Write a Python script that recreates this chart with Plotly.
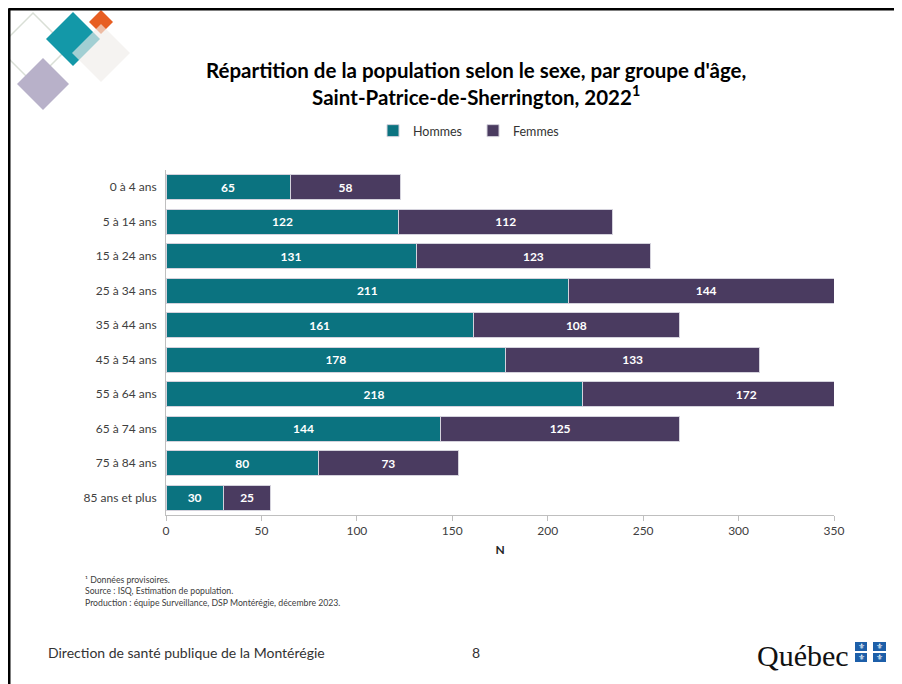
import plotly.graph_objects as go

categories = ["0 à 4 ans", "5 à 14 ans", "15 à 24 ans", "25 à 34 ans", "35 à 44 ans",
              "45 à 54 ans", "55 à 64 ans", "65 à 74 ans", "75 à 84 ans", "85 ans et plus"]
hommes = [65, 122, 131, 211, 161, 178, 218, 144, 80, 30]
femmes = [58, 112, 123, 144, 108, 133, 172, 125, 73, 25]
x_ticks = [0, 50, 100, 150, 200, 250, 300, 350]

TEAL = "#0b7380"
PURPLE = "#4a3b60"
FONT = "Lato"

OFF = 8  # page body margin
W, H = 902 - OFF, 684 - OFF
# plot area in reference (screen) pixel coordinates
RL, RR, RT, RB = 166, 834, 170, 515
L, R, T, B = RL - OFF, RR - OFF, RT - OFF, RB - OFF


def px(x):
    return (x - RL) / (RR - RL)


def py(y):
    return (RB - y) / (RB - RT)


fig = go.Figure()
for name, vals, col in [("Hommes", hommes, TEAL), ("Femmes", femmes, PURPLE)]:
    fig.add_trace(go.Bar(
        name=name, y=categories, x=vals, orientation="h",
        marker=dict(color=col, line=dict(color="#d4d2dc", width=1)),
        texttemplate="%{x}", textposition="inside", insidetextanchor="middle",
        textangle=0,
        textfont=dict(family=FONT, size=12, color="white", weight="bold"),
    ))

shapes = []


def diamond(cx, cy, r, fill=None, line=None, opacity=1.0, lw=1.5):
    path = f"M {px(cx)} {py(cy - r)} L {px(cx + r)} {py(cy)} L {px(cx)} {py(cy + r)} L {px(cx - r)} {py(cy)} Z"
    d = dict(type="path", xref="paper", yref="paper", path=path, opacity=opacity, layer="above")
    if fill:
        d["fillcolor"] = fill
        d["line"] = dict(width=0)
    else:
        d["fillcolor"] = "rgba(0,0,0,0)"
        d["line"] = dict(color=line, width=lw)
    shapes.append(d)


diamond(33, 48, 35, line="#d9dfd6", lw=1.5)
diamond(43, 84, 26, fill="#b8b1c9")
diamond(73, 39, 27, fill="#1398a8")
diamond(101, 22, 12, fill="#e75e22")
diamond(101, 53, 29, fill="#efedea", opacity=0.65)

# slide border (top & left)
shapes.append(dict(type="line", xref="paper", yref="paper", x0=px(8.5), x1=px(910), y0=py(9), y1=py(9),
                   line=dict(color="black", width=3)))
shapes.append(dict(type="line", xref="paper", yref="paper", x0=px(9), x1=px(9), y0=py(8.5), y1=py(700),
                   line=dict(color="black", width=3)))

# Québec flag squares
for x0, x1 in [(855, 867), (873, 886)]:
    for y0, y1 in [(642, 651), (653, 662)]:
        shapes.append(dict(type="rect", xref="paper", yref="paper", x0=px(x0), x1=px(x1),
                           y0=py(y1), y1=py(y0), fillcolor="#1d5fa9", line=dict(width=0)))

annotations = [
    dict(x=px(476), y=py(84), xref="paper", yref="paper", xanchor="center", yanchor="middle",
         text="Répartition de la population selon le sexe, par groupe d'âge,<br>Saint-Patrice-de-Sherrington, 2022<sup>1</sup>",
         showarrow=False, font=dict(family=FONT, size=20.5, color="black", weight="bold")),
    dict(x=px(83), y=py(591), xref="paper", yref="paper", xanchor="left", yanchor="middle", align="left",
         text="¹ Données provisoires.<br>Source : ISQ, Estimation de population.<br>Production : équipe Surveillance, DSP Montérégie, décembre 2023.",
         showarrow=False, font=dict(family=FONT, size=8.7, color="#404040")),
    dict(x=px(46), y=py(652), xref="paper", yref="paper", xanchor="left", yanchor="middle",
         text="Direction de santé publique de la Montérégie",
         showarrow=False, font=dict(family=FONT, size=14, color="#333333")),
    dict(x=px(476), y=py(652), xref="paper", yref="paper", xanchor="center", yanchor="middle",
         text="8", showarrow=False, font=dict(family=FONT, size=14, color="#333333")),
    dict(x=px(755), y=py(655), xref="paper", yref="paper", xanchor="left", yanchor="middle",
         text="Québec", showarrow=False, font=dict(family="Liberation Serif", size=30, color="#111111")),
]
for cx in [861, 879.5]:
    for cy in [646.5, 657.5]:
        annotations.append(dict(x=px(cx), y=py(cy), xref="paper", yref="paper", xanchor="center",
                                yanchor="middle", text="⚜", showarrow=False,
                                font=dict(family="DejaVu Sans", size=8, color="white")))

fig.update_layout(
    width=W, height=H,
    margin=dict(l=L, r=W - R, t=T, b=H - B, autoexpand=False),
    paper_bgcolor="white", plot_bgcolor="white",
    barmode="stack", bargap=0.28,
    font=dict(family=FONT, size=12, color="#404040"),
    showlegend=True,
    legend=dict(orientation="h", x=px(473), y=py(131), xanchor="center", yanchor="middle",
                font=dict(family=FONT, size=12.5, color="#333333"), traceorder="normal",
                itemwidth=30, entrywidth=55, entrywidthmode="pixels", bgcolor="rgba(0,0,0,0)"),
    xaxis=dict(range=[0, 350], tickvals=x_ticks, showgrid=False, zeroline=False,
               showline=True, linecolor="#bfbfbf", linewidth=1,
               ticks="outside", ticklen=5, tickcolor="#bfbfbf",
               tickfont=dict(family=FONT, size=12, color="#404040"),
               title=dict(text="N", standoff=8, font=dict(family=FONT, size=12, color="#262626", weight="bold"))),
    yaxis=dict(categoryorder="array", categoryarray=categories, autorange="reversed",
               showgrid=False, zeroline=False, showline=True, linecolor="#bfbfbf", linewidth=1,
               ticks="outside", ticklen=6, tickcolor="rgba(0,0,0,0)",
               tickfont=dict(family=FONT, size=12, color="#404040")),
    shapes=shapes, annotations=annotations,
)

fig.write_html(
    "out.html",
    config={"displayModeBar": False},
    post_script="document.documentElement.style.overflow='hidden';document.body.style.overflow='hidden';",
)
